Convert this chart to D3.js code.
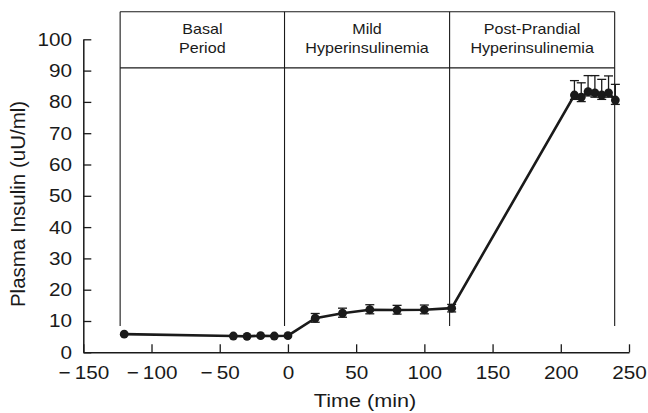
<!DOCTYPE html>
<html>
<head>
<meta charset="utf-8">
<script src="https://cdn.jsdelivr.net/npm/d3@7"></script>
<style>
  body { margin: 0; background: #fff; }
  svg { display: block; }
  text { font-family: "Liberation Sans", Arial, Helvetica, sans-serif; fill: #1a1a1a; }
</style>
</head>
<body>
<div id="chart"></div>
<script>
// insulin time course
let times = [-120, -40, -30, -20, -10, 0, 20, 40, 60, 80, 100, 120, 210, 215, 220, 225, 230, 235, 240];
let insulin = [5.8, 5.2, 5.1, 5.3, 5.2, 5.3, 10.9, 12.5, 13.6, 13.5, 13.6, 14.1, 82.2, 81.5, 83.3, 82.9, 82.2, 82.9, 80.6];
let errUp = [0, 0, 0, 0, 0, 0, 1.5, 1.6, 1.6, 1.5, 1.5, 1.2, 4.6, 4.6, 5.1, 5.5, 5.0, 5.4, 5.0];
let errDown = [0, 0, 0, 0, 0, 0, 1.3, 1.3, 1.3, 1.3, 1.3, 1.2, 1.4, 1.4, 1.4, 1.4, 1.4, 1.4, 1.4];

// period boxes across the top
let periodEdges = [-123, -2.5, 118.5, 239.5];
let periodNames = [["Basal", "Period"], ["Mild", "Hyperinsulinemia"], ["Post-Prandial", "Hyperinsulinemia"]];

let xTicks = [-150, -100, -50, 0, 50, 100, 150, 200, 250];
let yTicks = [0, 10, 20, 30, 40, 50, 60, 70, 80, 90, 100];

const W = 648, H = 413;
let svg = d3.select("#chart").append("svg").attr("width", W).attr("height", H);

let x = d3.scaleLinear().domain([-150, 250]).range([83.3, 629]);
let y = d3.scaleLinear().domain([0, 100]).range([352.3, 39.3]);

let boxTop = 108.8, boxMid = 90.9, lineBottom = 8.4;
let ink = "#1a1a1a";
let stretch = 1.12;  // the original type is a bit wider than Liberation

// header box + period dividers
svg.append("line")
  .attr("x1", x(periodEdges[0])).attr("x2", x(periodEdges[3]))
  .attr("y1", y(boxTop)).attr("y2", y(boxTop))
  .attr("stroke", ink).attr("stroke-width", 1.2);
svg.append("line")
  .attr("x1", x(periodEdges[0])).attr("x2", x(periodEdges[3]))
  .attr("y1", y(boxMid)).attr("y2", y(boxMid))
  .attr("stroke", ink).attr("stroke-width", 1.2);
svg.selectAll(".edge").data(periodEdges).enter().append("line")
  .attr("x1", d => x(d)).attr("x2", d => x(d))
  .attr("y1", y(boxTop)).attr("y2", y(lineBottom))
  .attr("stroke", ink).attr("stroke-width", 1.1);

periodNames.forEach(function(lines, i) {
  let cx = (x(periodEdges[i]) + x(periodEdges[i + 1])) / 2;
  let t = svg.append("text").attr("text-anchor", "middle").attr("font-size", 14)
    .attr("transform", `translate(${cx},0) scale(1.15,1)`);
  lines.forEach(function(s, j) {
    t.append("tspan").attr("x", 0).attr("y", 34.3 + j * 19).text(s);
  });
});

// axes
let xAxis = d3.axisBottom(x).tickValues(xTicks).tickSizeInner(-8).tickSizeOuter(0)
  .tickPadding(14).tickFormat(d => d < 0 ? "\u2212\u2009" + Math.abs(d) : d);
let gx = svg.append("g").attr("transform", `translate(0,${y(0)})`).call(xAxis);

let yAxis = d3.axisLeft(y).tickValues(yTicks).tickSizeInner(-8).tickSizeOuter(0).tickPadding(10);
let gy = svg.append("g").attr("transform", `translate(${x(-150)},0)`).call(yAxis);

[gx, gy].forEach(function(g) {
  g.select(".domain").attr("stroke", ink).attr("stroke-width", 1.5);
  g.selectAll(".tick line").attr("stroke", ink).attr("stroke-width", 1.3);
  g.selectAll(".tick text").attr("font-size", 18.5).attr("fill", ink)
    .attr("transform", `scale(${stretch},1)`)
    .style("font-family", "'Liberation Sans', Arial, Helvetica, sans-serif");
});

// axis titles
svg.append("text").attr("transform", "translate(365,406.5) scale(1.17,1)")
  .attr("text-anchor", "middle").attr("font-size", 18.5).text("Time (min)");
svg.append("text").attr("transform", "translate(24.5,204) rotate(-90)")
  .attr("text-anchor", "middle").attr("font-size", 20.5).text("Plasma Insulin (uU/ml)");

// series
let pts = times.map((t, i) => ({ t: t, v: insulin[i], up: errUp[i], dn: errDown[i] }));

let errG = svg.append("g").attr("stroke", ink).attr("stroke-width", 1.3);
pts.filter(d => d.up > 0).forEach(function(d) {
  let cx = x(d.t), cw = 4.5;
  errG.append("line").attr("x1", cx).attr("x2", cx).attr("y1", y(d.v + d.up)).attr("y2", y(d.v - d.dn));
  errG.append("line").attr("x1", cx - cw).attr("x2", cx + cw).attr("y1", y(d.v + d.up)).attr("y2", y(d.v + d.up));
  errG.append("line").attr("x1", cx - cw).attr("x2", cx + cw).attr("y1", y(d.v - d.dn)).attr("y2", y(d.v - d.dn));
});

svg.append("path").datum(pts)
  .attr("d", d3.line().x(d => x(d.t)).y(d => y(d.v)))
  .attr("fill", "none").attr("stroke", ink).attr("stroke-width", 2.6);

svg.selectAll(".pt").data(pts).enter().append("circle")
  .attr("cx", d => x(d.t)).attr("cy", d => y(d.v)).attr("r", 4.4)
  .attr("fill", ink);
</script>
</body>
</html>
